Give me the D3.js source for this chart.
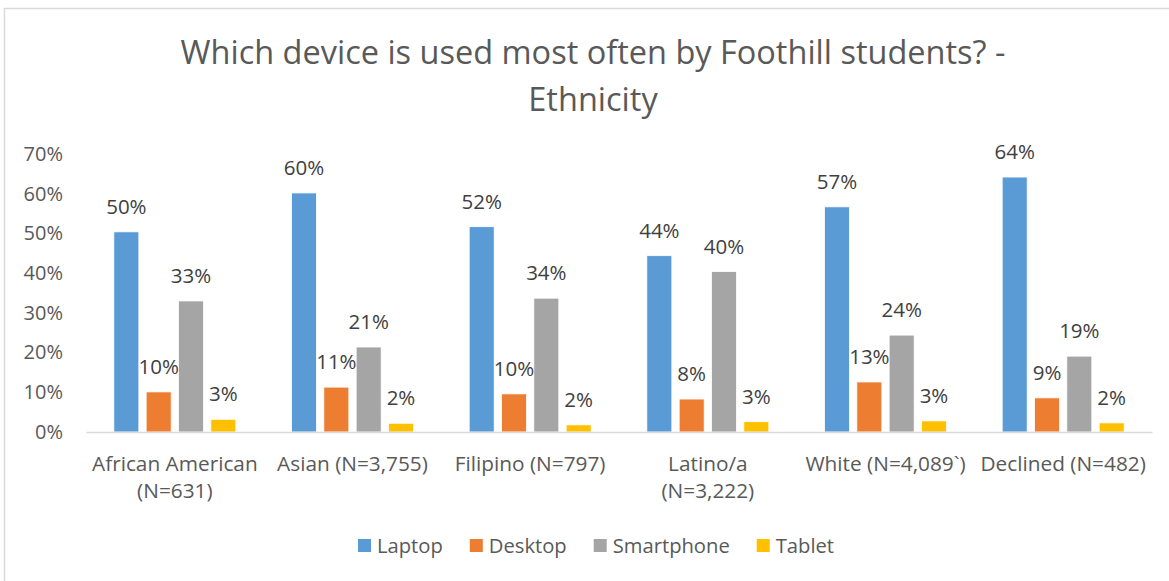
<!DOCTYPE html>
<html>
<head>
<meta charset="utf-8">
<script src="https://cdn.jsdelivr.net/npm/d3@7"></script>
<style>
  html, body { margin: 0; padding: 0; background: #fff; }
  svg { display: block; font-family: "Open Sans", "Noto Sans", sans-serif; }
</style>
</head>
<body>
<svg id="chart" width="1169" height="581"></svg>
<script>
// ---- data ----
const categories = ["African American (N=631)", "Asian (N=3,755)", "Filipino (N=797)",
                    "Latino/a (N=3,222)", "White (N=4,089`)", "Declined (N=482)"];
const tickLabels = [["African American", "(N=631)"], ["Asian (N=3,755)"], ["Filipino (N=797)"],
                    ["Latino/a", "(N=3,222)"], ["White (N=4,089`)"], ["Declined (N=482)"]];
const seriesNames = ["Laptop", "Desktop", "Smartphone", "Tablet"];
const laptop     = [0.504, 0.602, 0.517, 0.444, 0.567, 0.642];
const desktop    = [0.101, 0.113, 0.096, 0.083, 0.126, 0.086];
const smartphone = [0.330, 0.214, 0.337, 0.404, 0.244, 0.191];
const tablet     = [0.032, 0.022, 0.018, 0.026, 0.028, 0.023];
const yTicks = [0, 0.1, 0.2, 0.3, 0.4, 0.5, 0.6, 0.7];
const titleLines = ["Which device is used most often by Foothill students? -", "Ethnicity"];

const seriesValues = [laptop, desktop, smartphone, tablet];
const colors = ["#5B9BD5", "#ED7D31", "#A5A5A5", "#FFC000"];

const svg = d3.select("#chart");

// chart border
svg.append("rect")
  .attr("x", 4.5).attr("y", 8.5).attr("width", 1200).attr("height", 600)
  .attr("fill", "none").attr("stroke", "#d9d9d9").attr("stroke-width", 1.5);

// title
svg.append("g").selectAll("text").data(titleLines).join("text")
  .attr("x", 593).attr("y", (d, i) => 64 + i * 47)
  .attr("text-anchor", "middle")
  .attr("font-size", 32.5).attr("fill", "#595959")
  .text(d => d);

const plot = { left: 86, right: 1152, top: 154, bottom: 432 };

const x0 = d3.scaleBand().domain(categories).range([plot.left, plot.right]).paddingInner(0).paddingOuter(0);
const x1 = d3.scaleBand().domain(seriesNames).range([-61, 61]).paddingInner(0.226).paddingOuter(0);
const y = d3.scaleLinear().domain([0, 0.7]).range([plot.bottom, plot.top]);

// y axis
const yAxis = svg.append("g").attr("transform", `translate(${plot.left},0)`)
  .call(d3.axisLeft(y).tickValues(yTicks).tickFormat(d3.format(".0%")).tickSize(0).tickPadding(23));
yAxis.select(".domain").remove();
yAxis.selectAll("text").attr("font-size", 20).attr("fill", "#595959")
  .attr("font-family", "Open Sans, sans-serif");

// bars
const rows = categories.map((c, i) => ({ cat: c, vals: seriesNames.map((s, j) => ({ s, j, v: seriesValues[j][i] })) }));
const groups = svg.append("g").selectAll("g").data(rows).join("g")
  .attr("transform", d => `translate(${x0(d.cat) + x0.bandwidth() / 2},0)`);

groups.selectAll("rect").data(d => d.vals).join("rect")
  .attr("x", d => x1(d.s))
  .attr("width", x1.bandwidth())
  .attr("y", d => y(d.v))
  .attr("height", d => y(0) - y(d.v))
  .attr("fill", d => colors[d.j])
  .attr("stroke", "#ffffff").attr("stroke-width", 0.8);

groups.selectAll("text.val").data(d => d.vals).join("text")
  .attr("class", "val")
  .attr("x", d => x1(d.s) + x1.bandwidth() / 2)
  .attr("y", d => y(d.v) - 18)
  .attr("text-anchor", "middle")
  .attr("font-size", 20.5).attr("fill", "#404040")
  .text(d => d3.format(".0%")(d.v));

// x axis
const xAxis = svg.append("g").attr("transform", `translate(0,${plot.bottom})`)
  .call(d3.axisBottom(x0).tickSize(0).tickFormat(() => ""));
xAxis.select(".domain").attr("stroke", "#d9d9d9").attr("stroke-width", 1.5);
xAxis.selectAll(".tick text").remove();
xAxis.selectAll(".tick").each(function (d, i) {
  const t = d3.select(this).append("text")
    .attr("text-anchor", "middle").attr("font-size", 20.8).attr("fill", "#595959")
    .attr("font-family", "Open Sans, sans-serif");
  tickLabels[i].forEach((line, k) => {
    t.append("tspan").attr("x", 0).attr("y", 38.7 + k * 27).text(line);
  });
});

// legend
const legend = svg.append("g").attr("transform", "translate(358,539)");
let lx = 0;
seriesNames.forEach((s, j) => {
  const g = legend.append("g").attr("transform", `translate(${lx},0)`);
  g.append("rect").attr("width", 13).attr("height", 13).attr("fill", colors[j]);
  const t = g.append("text").attr("x", 19).attr("y", 14).attr("font-size", 20.2)
    .attr("fill", "#595959").text(s);
  lx += 19 + t.node().getComputedTextLength() + 27;
});
</script>
</body>
</html>
